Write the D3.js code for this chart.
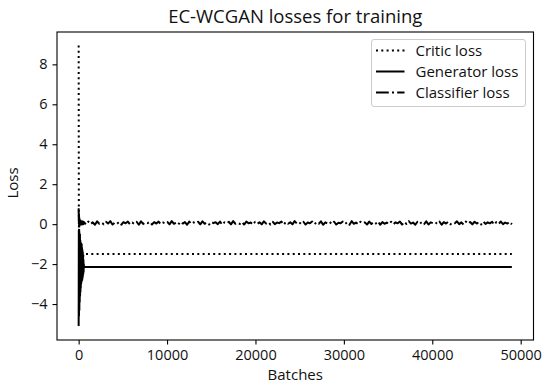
<!DOCTYPE html>
<html>
<head>
<meta charset="utf-8">
<script src="https://cdn.jsdelivr.net/npm/d3@7/dist/d3.min.js"></script>
<style>
  html, body { margin: 0; padding: 0; background: #fff; }
  svg text { font-family: "Open Sans", "DejaVu Sans", sans-serif; fill: #111; }
</style>
</head>
<body>
<svg id="chart" width="550" height="389"></svg>
<script>
// ---- Data ----
const title = "EC-WCGAN losses for training";
const xLabel = "Batches";
const yLabel = "Loss";
const xTicks = [0, 10000, 20000, 30000, 40000, 50000];
const yTicks = [-4, -2, 0, 2, 4, 6, 8];
const seriesNames = ["Critic loss", "Generator loss", "Classifier loss"];

// early, oscillating phase of training: batches 0..600, one value every 20 batches
const earlyStart = 0, earlyEnd = 600;
const criticEarly = [8.95, 0.8, -1.0, 0.2, -2.0, -0.5, -2.4, -0.8, -2.2, -1.0, -2.0, -1.2, -1.9, -1.3, -1.8, -1.4,
  -1.7, -1.4, -1.6, -1.5, -1.6, -1.4, -1.6, -1.5, -1.5, -1.5, -1.6, -1.5, -1.5, -1.5, -1.5];
const generatorEarly = [-5.1, -0.3, -4.6, -0.4, -4.3, -0.6, -3.9, -0.5, -3.6, -0.8, -3.4, -0.9, -3.2, -1.0, -3.0, -1.1,
  -2.9, -1.0, -2.8, -1.2, -2.8, -1.3, -2.7, -1.4, -2.6, -1.6, -2.5, -1.8, -2.4, -2.0, -2.15];
const classifierEarly = [0.8, 0.0, 0.5, -0.1, 0.3, 0.0, 0.25, 0.05, 0.2, -0.02, 0.18, 0.06, 0.15, 0.0, 0.14, 0.04,
  0.13, -0.02, 0.12, 0.05, 0.14, 0.0, 0.12, 0.03, 0.13, -0.01, 0.11, 0.04, 0.12, 0.02, 0.1];

// settled phase
const lateBatches = [600, 49000];
const criticLate = [-1.5, -1.5];
const generatorLate = [-2.15, -2.15];
const classifierLateStart = 600, classifierLateEnd = 49000;
const classifierLate = [
  0.10, -0.02, 0.13, 0.00, 0.09, -0.03, 0.14, 0.02, 0.08, -0.01, 0.12, 0.03, 0.15, -0.02, 0.07, 0.01, 0.11, -0.03, 0.10, 0.04,
  0.13, -0.01, 0.08, 0.02, 0.12, -0.03, 0.14, 0.01, 0.09, 0.05, 0.12, -0.02, 0.10, 0.03, 0.13, 0.00, 0.08, 0.04, 0.11, -0.01,
  0.15, 0.02, 0.07, -0.02, 0.12, 0.03, 0.10, -0.03, 0.13, 0.01, 0.09, 0.04, 0.12, -0.01, 0.14, 0.02, 0.08, -0.02, 0.11, 0.05,
  0.10, 0.00, 0.13, -0.03, 0.09, 0.03, 0.12, -0.01, 0.15, 0.02, 0.07, 0.01, 0.11, -0.02, 0.13, 0.04, 0.08, -0.03, 0.12, 0.02,
  0.09, -0.01, 0.14, 0.03, 0.10, -0.02, 0.12, 0.00, 0.08, 0.05, 0.13, -0.03, 0.11, 0.02, 0.09, -0.01, 0.15, 0.03, 0.10, 0.01,
  0.12, -0.02, 0.08, 0.04, 0.13, -0.01, 0.10, 0.02, 0.14, -0.03, 0.09, 0.03, 0.11, 0.00, 0.12, -0.02, 0.07, 0.05, 0.13, 0.01,
  0.10, -0.03, 0.15, 0.02, 0.08, -0.01, 0.12, 0.04, 0.09, -0.02, 0.13, 0.01, 0.11, 0.03, 0.14, -0.03, 0.10, 0.02, 0.08, 0.00,
  0.12, -0.01, 0.09, 0.04, 0.13, -0.02, 0.11, 0.01, 0.15, 0.03, 0.08, -0.03, 0.12, 0.02, 0.10, 0.00, 0.14, -0.02, 0.09, 0.05,
  0.11, 0.01, 0.13, -0.03, 0.10, 0.03, 0.12, -0.01, 0.08, 0.04, 0.14, 0.00, 0.09, -0.02, 0.13, 0.02, 0.11, -0.01, 0.12, 0.03,
  0.10, -0.02, 0.14, 0.01, 0.09, 0.04, 0.12, -0.03, 0.11, 0.02, 0.13, 0.00, 0.08, 0.03, 0.12, -0.01];

// ---- Build series ----
const spread = (vals, a, b) => vals.map((v, i) => [a + i * (b - a) / (vals.length - 1), v]);
const zip = (xs, ys) => xs.map((x, i) => [x, ys[i]]);

const series = [
  { name: seriesNames[0], dash: "2,3.3",
    pts: spread(criticEarly, earlyStart, earlyEnd).concat(zip(lateBatches, criticLate)) },
  { name: seriesNames[1], dash: null,
    pts: spread(generatorEarly, earlyStart, earlyEnd).concat(zip(lateBatches, generatorLate)) },
  { name: seriesNames[2], dash: "12.8,3.2,2,3.2",
    pts: spread(classifierEarly, earlyStart, earlyEnd).concat(spread(classifierLate, classifierLateStart, classifierLateEnd)) }
];

// ---- Layout ----
const W = 550, H = 389;
const m = { left: 57, right: 16.5, top: 32, bottom: 49 };
const svg = d3.select("#chart");

const x = d3.scaleLinear().domain([-2450, 51450]).range([m.left, W - m.right]);
const y = d3.scaleLinear().domain([-5.8, 9.62]).range([H - m.bottom, m.top]);

// lines
const line = d3.line().x(d => x(d[0])).y(d => y(d[1]));
const plot = svg.append("g");
series.forEach(s => {
  plot.append("path")
    .datum(s.pts)
    .attr("d", line)
    .attr("fill", "none")
    .attr("stroke", "#000")
    .attr("stroke-width", 2)
    .attr("stroke-linejoin", "round")
    .attr("stroke-linecap", "butt")
    .attr("stroke-dasharray", s.dash);
});

// axes
const xAxis = d3.axisBottom(x).tickValues(xTicks).tickFormat(d3.format("d")).tickSize(4.5).tickPadding(5);
const yAxis = d3.axisLeft(y).tickValues(yTicks).tickFormat(d => d < 0 ? "\u2212" + Math.abs(d) : d).tickSize(4.5).tickPadding(5);

const gx = svg.append("g").attr("transform", `translate(0,${H - m.bottom})`).call(xAxis);
const gy = svg.append("g").attr("transform", `translate(${m.left},0)`).call(yAxis);
[gx, gy].forEach(g => {
  g.select(".domain").remove();
  g.selectAll(".tick line").attr("stroke", "#000").attr("stroke-width", 1.1);
  g.selectAll(".tick text").style("font-size", "14.5px").attr("fill", "#111");
});

// frame
svg.append("rect")
  .attr("x", m.left).attr("y", m.top)
  .attr("width", W - m.left - m.right).attr("height", H - m.top - m.bottom)
  .attr("fill", "none").attr("stroke", "#000").attr("stroke-width", 1.1);

// title & labels
svg.append("text").attr("x", (m.left + W - m.right) / 2).attr("y", 22.5)
  .attr("text-anchor", "middle").style("font-size", "18.5px").text(title);
svg.append("text").attr("x", (m.left + W - m.right) / 2).attr("y", 379.5)
  .attr("text-anchor", "middle").style("font-size", "15px").text(xLabel);
svg.append("text").attr("transform", `translate(17.5,183) rotate(-90)`)
  .attr("text-anchor", "middle").style("font-size", "15px").text(yLabel);

// legend
const lg = svg.append("g");
lg.append("rect").attr("x", 371.5).attr("y", 39.5).attr("width", 154).attr("height", 67)
  .attr("rx", 2.5).attr("fill", "#fff").attr("fill-opacity", 0.8)
  .attr("stroke", "#ccc").attr("stroke-width", 1);
series.forEach((s, i) => {
  const cy = 50.5 + i * 21;
  lg.append("line").attr("x1", 376).attr("x2", 404.5).attr("y1", cy).attr("y2", cy)
    .attr("stroke", "#000").attr("stroke-width", 2)
    .attr("stroke-dasharray", s.dash);
  lg.append("text").attr("x", 415.5).attr("y", cy).attr("dy", "0.35em")
    .style("font-size", "15px").text(s.name);
});
</script>
</body>
</html>
